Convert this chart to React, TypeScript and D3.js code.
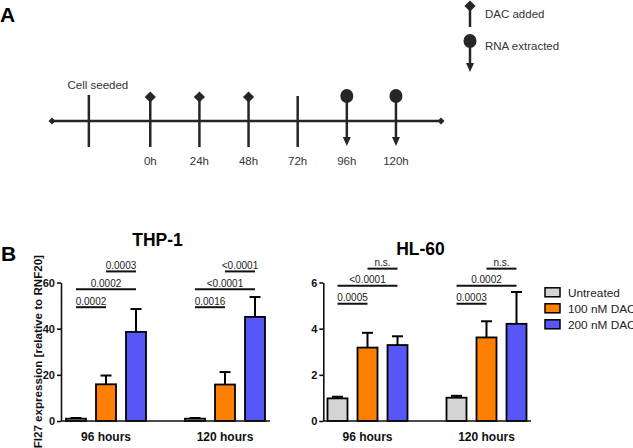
import React, { useEffect, useRef } from "react";
import * as d3 from "d3";

// ---------- Panel A: timeline ----------
const timelineHours = [0, 24, 48, 72, 96, 120];
const timelineLabels = ["0h", "24h", "48h", "72h", "96h", "120h"];
const timelineEvents = ["dac", "dac", "dac", "none", "rna", "rna"];
const seededHour = -30;
const timelineDomain = [-48, 142];

// ---------- Panel B: bar charts ----------
const treatments = ["Untreated", "100 nM DAC", "200 nM DAC"];
const timepoints = ["96 hours", "120 hours"];
const barColors = ["#d4d4d4", "#ff8000", "#5757f7"];

const thp1Means = [
  [1.0, 15.9, 38.6],
  [1.0, 15.8, 45.1],
];
const thp1Sd = [
  [0.3, 3.8, 9.9],
  [0.3, 5.4, 8.6],
];
const thp1Ticks = [0, 20, 40, 60];
const thp1Sig = [
  { t: 0, a: 0, b: 1, label: "0.0002", level: 49.3 },
  { t: 0, a: 0, b: 2, label: "0.0002", level: 57.1 },
  { t: 0, a: 1, b: 2, label: "0.0003", level: 64.8 },
  { t: 1, a: 0, b: 1, label: "0.0016", level: 49.3 },
  { t: 1, a: 0, b: 2, label: "<0.0001", level: 57.1 },
  { t: 1, a: 1, b: 2, label: "<0.0001", level: 64.8 },
];

const hl60Means = [
  [0.98, 3.18, 3.29],
  [1.01, 3.62, 4.21],
];
const hl60Sd = [
  [0.07, 0.64, 0.38],
  [0.08, 0.7, 1.38],
];
const hl60Ticks = [0, 2, 4, 6];
const hl60Sig = [
  { t: 0, a: 0, b: 1, label: "0.0005", level: 5.08 },
  { t: 0, a: 0, b: 2, label: "<0.0001", level: 5.86 },
  { t: 0, a: 1, b: 2, label: "n.s.", level: 6.6 },
  { t: 1, a: 0, b: 1, label: "0.0003", level: 5.08 },
  { t: 1, a: 0, b: 2, label: "0.0002", level: 5.86 },
  { t: 1, a: 1, b: 2, label: "n.s.", level: 6.6 },
];

const yLabel = "IFI27 expression [relative to RNF20]";

const W = 633;
const H = 448;
const ARIAL = "'Liberation Sans', Arial, sans-serif";

export default function App() {
  const ref = useRef<SVGSVGElement | null>(null);

  useEffect(() => {
    const svg = d3.select(ref.current);
    svg.selectAll("*").remove();
    svg.append("rect").attr("width", W).attr("height", H).attr("fill", "#fff");

    // ===== Panel A =====
    const dark = "#262626";
    svg
      .append("text")
      .attr("x", 0)
      .attr("y", 22)
      .attr("font-family", ARIAL)
      .attr("font-weight", "bold")
      .attr("font-size", 21)
      .attr("fill", "#000")
      .text("A");

    const tx = d3.scaleLinear().domain(timelineDomain).range([52, 441]);
    const lineY = 121;
    const gA = svg.append("g");
    gA.append("line")
      .attr("x1", tx(timelineDomain[0]))
      .attr("x2", tx(timelineDomain[1]))
      .attr("y1", lineY)
      .attr("y2", lineY)
      .attr("stroke", dark)
      .attr("stroke-width", 2.5);
    const diamondPath = (r: number) => `M0,${-r}L${r},0L0,${r}L${-r},0Z`;
    [timelineDomain[0], timelineDomain[1]].forEach((h) => {
      gA.append("path")
        .attr("d", diamondPath(3.5))
        .attr("transform", `translate(${tx(h)},${lineY})`)
        .attr("fill", dark);
    });

    // seeded tick
    gA.append("line")
      .attr("x1", tx(seededHour))
      .attr("x2", tx(seededHour))
      .attr("y1", 95)
      .attr("y2", 147)
      .attr("stroke", dark)
      .attr("stroke-width", 2.5);
    gA.append("text")
      .attr("x", tx(seededHour) + 9)
      .attr("y", 89)
      .attr("text-anchor", "middle")
      .attr("font-family", ARIAL)
      .attr("font-size", 11.5)
      .attr("fill", "#333")
      .text("Cell seeded");

    const arrowHead = (x: number, yTip: number) =>
      `M${x - 4},${yTip - 9}L${x + 4},${yTip - 9}L${x},${yTip}Z`;

    timelineHours.forEach((h, i) => {
      const x = tx(h);
      const ev = timelineEvents[i];
      if (ev === "dac") {
        gA.append("line")
          .attr("x1", x).attr("x2", x).attr("y1", 97).attr("y2", 147)
          .attr("stroke", dark).attr("stroke-width", 2.5);
        gA.append("path")
          .attr("d", diamondPath(5.6))
          .attr("transform", `translate(${x},97)`)
          .attr("fill", dark);
      } else if (ev === "rna") {
        gA.append("line")
          .attr("x1", x).attr("x2", x).attr("y1", 96).attr("y2", 138)
          .attr("stroke", dark).attr("stroke-width", 2.5);
        gA.append("path").attr("d", arrowHead(x, 146)).attr("fill", dark);
        gA.append("ellipse")
          .attr("cx", x).attr("cy", 96).attr("rx", 6.5).attr("ry", 7)
          .attr("fill", dark);
      } else {
        gA.append("line")
          .attr("x1", x).attr("x2", x).attr("y1", 96).attr("y2", 147)
          .attr("stroke", dark).attr("stroke-width", 2.5);
      }
      gA.append("text")
        .attr("x", x)
        .attr("y", 164.5)
        .attr("text-anchor", "middle")
        .attr("font-family", ARIAL)
        .attr("font-size", 11.5)
        .attr("fill", "#333")
        .text(timelineLabels[i]);
    });

    // legend A
    const lx = 470;
    gA.append("line").attr("x1", lx).attr("x2", lx).attr("y1", 6).attr("y2", 27)
      .attr("stroke", dark).attr("stroke-width", 2.5);
    gA.append("path").attr("d", diamondPath(5.6))
      .attr("transform", `translate(${lx},6)`).attr("fill", dark);
    gA.append("text").attr("x", 485).attr("y", 17.5)
      .attr("font-family", ARIAL).attr("font-size", 11.5).attr("fill", "#333")
      .text("DAC added");
    gA.append("line").attr("x1", lx).attr("x2", lx).attr("y1", 41).attr("y2", 64)
      .attr("stroke", dark).attr("stroke-width", 2.5);
    gA.append("path").attr("d", arrowHead(lx, 72)).attr("fill", dark);
    gA.append("ellipse").attr("cx", lx).attr("cy", 41).attr("rx", 6.5).attr("ry", 7)
      .attr("fill", dark);
    gA.append("text").attr("x", 485).attr("y", 50)
      .attr("font-family", ARIAL).attr("font-size", 11.5).attr("fill", "#333")
      .text("RNA extracted");

    // ===== Panel B =====
    svg
      .append("text")
      .attr("x", 1)
      .attr("y", 261)
      .attr("font-family", ARIAL)
      .attr("font-weight", "bold")
      .attr("font-size", 21)
      .attr("fill", "#000")
      .text("B");

    svg
      .append("text")
      .attr("transform", "translate(41.5,255) rotate(-90)")
      .attr("text-anchor", "end")
      .attr("font-family", ARIAL)
      .attr("font-weight", "bold")
      .attr("font-size", 11.6)
      .attr("fill", "#111")
      .text(yLabel);

    const panels = [
      {
        title: "THP-1",
        titleX: 157.5,
        titleY: 246,
        axisX: 61,
        axisEnd: 270,
        groupRange: [106, 225],
        means: thp1Means,
        sd: thp1Sd,
        ticks: thp1Ticks,
        sig: thp1Sig,
      },
      {
        title: "HL-60",
        titleX: 420.5,
        titleY: 254.5,
        axisX: 323.3,
        axisEnd: 531,
        groupRange: [367.5, 486.5],
        means: hl60Means,
        sd: hl60Sd,
        ticks: hl60Ticks,
        sig: hl60Sig,
      },
    ];

    const inner = d3
      .scaleBand<string>()
      .domain(treatments)
      .range([-45, 45])
      .paddingInner(1 / 3)
      .paddingOuter(1 / 6);

    panels.forEach((p) => {
      const g = svg.append("g");
      const maxTick = p.ticks[p.ticks.length - 1];
      const y = d3.scaleLinear().domain([0, maxTick]).range([421, 282.5]);
      const gx = d3.scalePoint<string>().domain(timepoints).range(p.groupRange as [number, number]);

      g.append("text")
        .attr("x", p.titleX)
        .attr("y", p.titleY)
        .attr("text-anchor", "middle")
        .attr("font-family", ARIAL)
        .attr("font-weight", "bold")
        .attr("font-size", 17.5)
        .attr("fill", "#000")
        .text(p.title);

      // bars
      timepoints.forEach((tp, ti) => {
        treatments.forEach((tr, ki) => {
          const x0 = (gx(tp) as number) + (inner(tr) as number);
          const bw = inner.bandwidth();
          const m = p.means[ti][ki];
          const errTop = y(m + p.sd[ti][ki]);
          const cx = x0 + bw / 2;
          g.append("line")
            .attr("x1", cx).attr("x2", cx)
            .attr("y1", y(m)).attr("y2", errTop)
            .attr("stroke", "#000").attr("stroke-width", 2);
          g.append("line")
            .attr("x1", cx - 5.5).attr("x2", cx + 5.5)
            .attr("y1", errTop).attr("y2", errTop)
            .attr("stroke", "#000").attr("stroke-width", 2);
          g.append("rect")
            .attr("x", x0)
            .attr("y", y(m))
            .attr("width", bw)
            .attr("height", y(0) - y(m))
            .attr("fill", barColors[ki])
            .attr("stroke", "#000")
            .attr("stroke-width", 1.8);
        });
        g.append("text")
          .attr("x", gx(tp) as number)
          .attr("y", 441)
          .attr("text-anchor", "middle")
          .attr("font-family", ARIAL)
          .attr("font-weight", "bold")
          .attr("font-size", 12)
          .attr("fill", "#111")
          .text(tp);
      });

      // axes
      const ay = g
        .append("g")
        .attr("transform", `translate(${p.axisX},0)`)
        .call(
          d3
            .axisLeft(y)
            .tickValues(p.ticks)
            .tickFormat(d3.format("d") as any)
            .tickSize(4)
            .tickSizeOuter(0)
            .tickPadding(2)
        );
      ay.select(".domain").attr("stroke", "#111").attr("stroke-width", 1.6);
      ay.selectAll(".tick line").attr("stroke", "#111").attr("stroke-width", 1.6);
      ay.selectAll(".tick text")
        .attr("font-family", ARIAL)
        .attr("font-weight", "bold")
        .attr("font-size", 11)
        .attr("fill", "#111");

      g.append("line")
        .attr("x1", p.axisX)
        .attr("x2", p.axisEnd)
        .attr("y1", y(0))
        .attr("y2", y(0))
        .attr("stroke", "#111")
        .attr("stroke-width", 1.6);

      // significance
      p.sig.forEach((s) => {
        const tp = timepoints[s.t];
        const xa = (gx(tp) as number) + (inner(treatments[s.a]) as number) + inner.bandwidth() / 2;
        const xb = (gx(tp) as number) + (inner(treatments[s.b]) as number) + inner.bandwidth() / 2;
        const ly = y(s.level);
        g.append("line")
          .attr("x1", xa).attr("x2", xb)
          .attr("y1", ly).attr("y2", ly)
          .attr("stroke", "#111").attr("stroke-width", 2);
        g.append("text")
          .attr("x", (xa + xb) / 2)
          .attr("y", ly - 2.5)
          .attr("text-anchor", "middle")
          .attr("font-family", ARIAL)
          .attr("font-size", 10)
          .attr("fill", "#222")
          .text(s.label);
      });
    });

    // legend B
    const lg = svg.append("g");
    treatments.forEach((tr, i) => {
      const cy = 292.3 + i * 16;
      lg.append("rect")
        .attr("x", 545)
        .attr("y", cy - 4.5)
        .attr("width", 15)
        .attr("height", 9)
        .attr("fill", barColors[i])
        .attr("stroke", "#000")
        .attr("stroke-width", 1.5);
      lg.append("text")
        .attr("x", 568)
        .attr("y", cy + 4.2)
        .attr("font-family", ARIAL)
        .attr("font-size", 11.8)
        .attr("fill", "#222")
        .text(tr);
    });
  }, []);

  return (
    <svg
      ref={ref}
      width={W}
      height={H}
      style={{ position: "absolute", left: 0, top: 0, display: "block" }}
    />
  );
}
